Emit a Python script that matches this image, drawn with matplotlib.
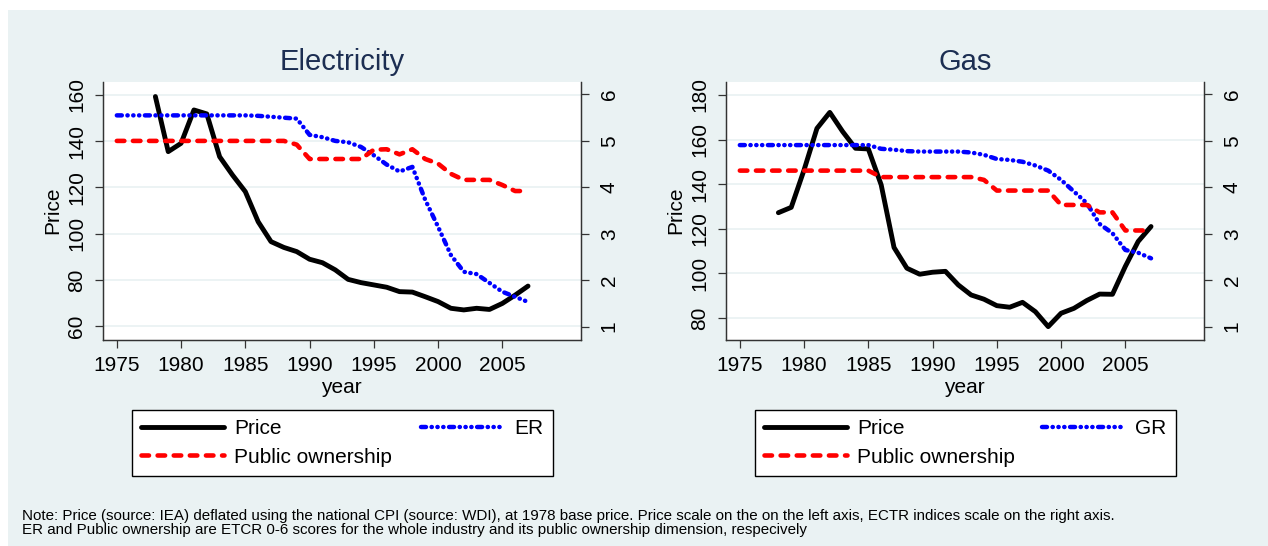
import matplotlib
matplotlib.use("Agg")
import matplotlib.pyplot as plt
from matplotlib.patches import Rectangle

plt.rcParams['font.family'] = ['Liberation Sans', 'DejaVu Sans']
plt.rcParams['lines.scale_dashes'] = False

# data
years = list(range(1975, 2008))
price_years = list(range(1978, 2008))

elec_price = [159.3, 135.5, 139.1, 153.5, 151.8, 133.3, 125.4, 118.2, 105.2, 96.6,
              94.1, 92.3, 89.0, 87.5, 84.4, 80.3, 78.9, 77.9, 76.9, 75.0,
              74.8, 72.8, 70.7, 67.8, 67.1, 67.8, 67.3, 69.9, 73.5, 77.4]
elec_er = [5.55, 5.55, 5.55, 5.55, 5.55, 5.55, 5.55, 5.55, 5.55, 5.55, 5.55,
           5.54, 5.52, 5.50, 5.48, 5.13, 5.08, 5.00, 4.97, 4.87, 4.69, 4.49,
           4.34, 4.44, 3.73, 3.15, 2.54, 2.18, 2.13, 1.94, 1.75, 1.64, 1.53]
elec_public = [5.0, 5.0, 5.0, 5.0, 5.0, 5.0, 5.0, 5.0, 5.0, 5.0, 5.0, 5.0, 5.0, 5.0,
               4.92, 4.61, 4.61, 4.61, 4.61, 4.61, 4.81, 4.82, 4.71, 4.82, 4.61,
               4.51, 4.29, 4.16, 4.16, 4.16, 4.05, 3.92, 3.92]

gas_price = [127.2, 129.6, 146.4, 165.0, 172.2, 163.6, 156.1, 155.8, 139.7, 111.6,
             102.3, 99.6, 100.5, 100.9, 94.8, 90.3, 88.4, 85.5, 84.8, 87.0,
             82.8, 76.1, 82.1, 84.3, 87.8, 90.7, 90.6, 103.1, 114.3, 121.0]
gas_gr = [4.91, 4.91, 4.91, 4.91, 4.91, 4.91, 4.91, 4.91, 4.91, 4.91, 4.91,
          4.83, 4.81, 4.78, 4.77, 4.77, 4.77, 4.77, 4.75, 4.70, 4.61, 4.59,
          4.55, 4.47, 4.36, 4.16, 3.91, 3.66, 3.21, 3.01, 2.65, 2.59, 2.47]
gas_public = [4.36, 4.36, 4.36, 4.36, 4.36, 4.36, 4.36, 4.36, 4.36, 4.36, 4.36,
              4.22, 4.22, 4.22, 4.22, 4.22, 4.22, 4.22, 4.22, 4.16,
              3.93, 3.93, 3.93, 3.93, 3.93, 3.62, 3.62, 3.62, 3.46, 3.46,
              3.07, 3.07, 3.07]

note1 = ("Note: Price (source: IEA) deflated using the national CPI (source: WDI), at 1978 base price. "
         "Price scale on the on the left axis, ECTR indices scale on the right axis.")
note2 = ("ER and Public ownership are ETCR 0-6 scores for the whole industry and its public "
         "ownership dimension, respecively")

bg = '#eaf2f3'
title_col = '#1c2e52'
W, H = 1268, 546


def box(l, t, r, b):
    return [l / W, 1 - b / H, (r - l) / W, (b - t) / H]


fig = plt.figure(figsize=(W / 100, H / 100), dpi=100, facecolor='white')
fig.patches.append(Rectangle((8 / W, 0), 1 - 8 / W, (H - 10) / H, transform=fig.transFigure,
                             facecolor=bg, edgecolor='none', zorder=-10))


def panel(left, title, price, index, public, index_name, ylim, yticks):
    ax = fig.add_axes(box(left, 81.5, left + 478, 340))
    ax.set_facecolor('white')
    ax2 = ax.twinx()

    l1, = ax.plot(price_years, price, color='black', lw=3.5, solid_capstyle='round',
                  solid_joinstyle='round')
    l2, = ax2.plot(years, index, color='blue', lw=3.2, dash_capstyle='round',
                   dashes=(3.6, 4.0, 0.2, 4.0, 0.2, 4.0, 0.2, 4.0))
    l3, = ax2.plot(years, public, color='red', lw=3.3, dash_capstyle='round',
                   dashes=(5.4, 6.2))

    ax.set_xlim(1973.9, 2011.1)
    ax.set_xticks(range(1975, 2010, 5))
    ax.set_ylim(*ylim)
    ax.set_yticks(yticks)
    ax2.set_ylim(0.71, 6.28)
    ax2.set_yticks([1, 2, 3, 4, 5, 6])

    ax.yaxis.grid(True, color=bg, lw=1.3)
    ax.set_axisbelow(True)
    for a in (ax, ax2):
        a.spines['top'].set_visible(False)
        for s in a.spines.values():
            s.set_color('#333333')
            s.set_linewidth(0.9)
        a.tick_params(direction='out', length=5.8, width=0.9, color='#333333',
                      labelsize=15, pad=6)
    ax2.tick_params(axis='y', pad=8)
    plt.setp(ax.get_yticklabels(), rotation=90, va='center')
    plt.setp(ax2.get_yticklabels(), rotation=90, va='center')

    ax.set_xlabel('year', fontsize=15, labelpad=2)
    ax.set_ylabel('Price', fontsize=15, labelpad=4)

    fig.text((left + 239) / W, 1 - 62 / H, title, fontsize=21, color=title_col,
             ha='center', va='center')

    lb = box(left + 29, 409, left + 450, 477)
    fig.legend([l1, l3, l2], ['Price', 'Public ownership', index_name],
               loc='center', bbox_to_anchor=lb, mode='expand', ncol=2,
               fontsize=15, frameon=True, fancybox=False, edgecolor='black',
               framealpha=1, handlelength=4, handletextpad=0.45,
               borderpad=0.45, labelspacing=0.45, borderaxespad=0)
    return ax


panel(102.7, 'Electricity', elec_price, elec_er, elec_public, 'ER',
      (54.1, 165.8), [60, 80, 100, 120, 140, 160])
panel(725.7, 'Gas', gas_price, gas_gr, gas_public, 'GR',
      (70.1, 186.05), [80, 100, 120, 140, 160, 180])

fig.text(22 / W, 1 - 516 / H, note1, fontsize=10.9, va='center')
fig.text(22 / W, 1 - 530 / H, note2, fontsize=10.9, va='center')

fig.savefig('out.png', dpi=100, facecolor='white')
